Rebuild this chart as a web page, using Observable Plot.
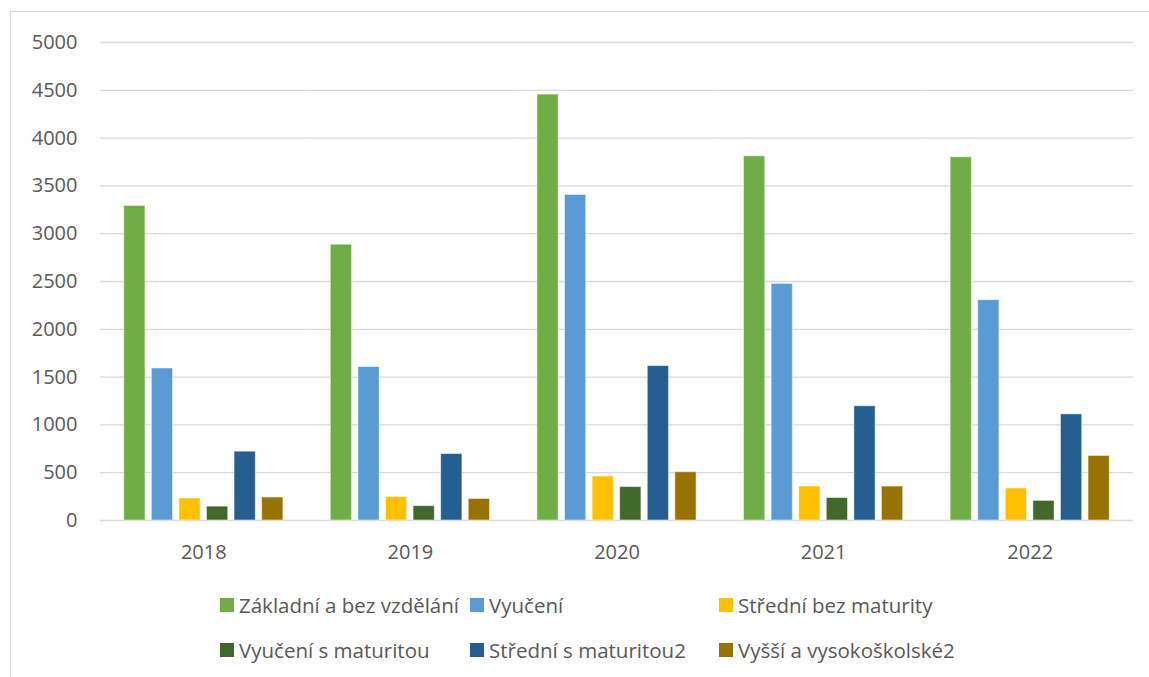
<!DOCTYPE html>
<html>
<head>
<meta charset="utf-8">
<script src="https://cdn.jsdelivr.net/npm/d3@7"></script>
<script src="https://cdn.jsdelivr.net/npm/@observablehq/plot@0.6"></script>
<style>
  html, body { margin: 0; padding: 0; background: #fff; }
  body { width: 1149px; height: 677px; position: relative; overflow: hidden; font-family: "Open Sans", sans-serif; }
  #frame { position: absolute; left: 10px; top: 11px; width: 1160px; height: 700px; border-left: 1.5px solid #d9d9d9; border-top: 1.5px solid #d9d9d9; }
  #chart { position: absolute; left: 0; top: 0; }
  .leg { position: absolute; display: flex; align-items: center; height: 24px; font-size: 20.5px; color: #595959; white-space: nowrap; }
  .leg .sw { width: 14px; height: 14px; margin-right: 5px; flex: none; }
</style>
</head>
<body>
<div id="frame"></div>
<div id="chart"></div>
<div id="legend"></div>
<script>
const years = ["2018", "2019", "2020", "2021", "2022"];
const series = [
  "Základní a bez vzdělání",
  "Vyučení",
  "Střední bez maturity",
  "Vyučení s maturitou",
  "Střední s maturitou2",
  "Vyšší a vysokoškolské2"
];
const colors = ["#70ad47", "#5b9bd5", "#ffc000", "#43682b", "#255e91", "#997300"];

const zakladni    = [3290, 2885, 4455, 3810, 3800];
const vyuceni     = [1590, 1605, 3405, 2475, 2305];
const stredniBez  = [230, 245, 460, 355, 335];
const vyuceniMat  = [145, 150, 350, 235, 205];
const stredniMat  = [720, 695, 1615, 1195, 1110];
const vyssi       = [240, 225, 505, 355, 675];

const yTicks = [0, 500, 1000, 1500, 2000, 2500, 3000, 3500, 4000, 4500, 5000];

const seriesValues = [zakladni, vyuceni, stredniBez, vyuceniMat, stredniMat, vyssi];
const data = [];
years.forEach((yr, i) => {
  series.forEach((s, j) => data.push({year: yr, series: s, value: seriesValues[j][i]}));
});

const chart = Plot.plot({
  width: 1149,
  height: 570,
  marginTop: 42,
  marginBottom: 50,
  marginLeft: 100,
  marginRight: 16,
  style: {fontFamily: "'Open Sans', sans-serif", fontSize: "20px", color: "#595959", background: "transparent", overflow: "visible"},
  fx: {domain: years, padding: 0, round: false, label: null, axis: "bottom", tickSize: 0, tickPadding: 24},
  x: {domain: series, paddingInner: 0.23, paddingOuter: 0.86, round: false, axis: null},
  y: {domain: [0, 5000], ticks: yTicks, tickFormat: "d", label: null, tickSize: 0, tickPadding: 23},
  color: {domain: series, range: colors},
  marks: [
    Plot.ruleY(yTicks, {stroke: "#d9d9d9", strokeWidth: 1.3, strokeOpacity: 1}),
    Plot.barY(data, {fx: "year", x: "series", y: "value", fill: "series", stroke: "#fff", strokeWidth: 1, strokeOpacity: 0.5})
  ]
});
document.getElementById("chart").appendChild(chart);

// Legend (HTML, below the SVG)
const legendPos = [
  [220, 593], [470, 593], [719, 593],
  [220, 638], [470, 638], [719, 638]
];
const legend = document.getElementById("legend");
series.forEach((s, i) => {
  const item = document.createElement("div");
  item.className = "leg";
  item.style.left = legendPos[i][0] + "px";
  item.style.top = legendPos[i][1] + "px";
  const sw = document.createElement("span");
  sw.className = "sw";
  sw.style.background = colors[i];
  const t = document.createElement("span");
  t.textContent = s;
  item.appendChild(sw);
  item.appendChild(t);
  legend.appendChild(item);
});
</script>
</body>
</html>
